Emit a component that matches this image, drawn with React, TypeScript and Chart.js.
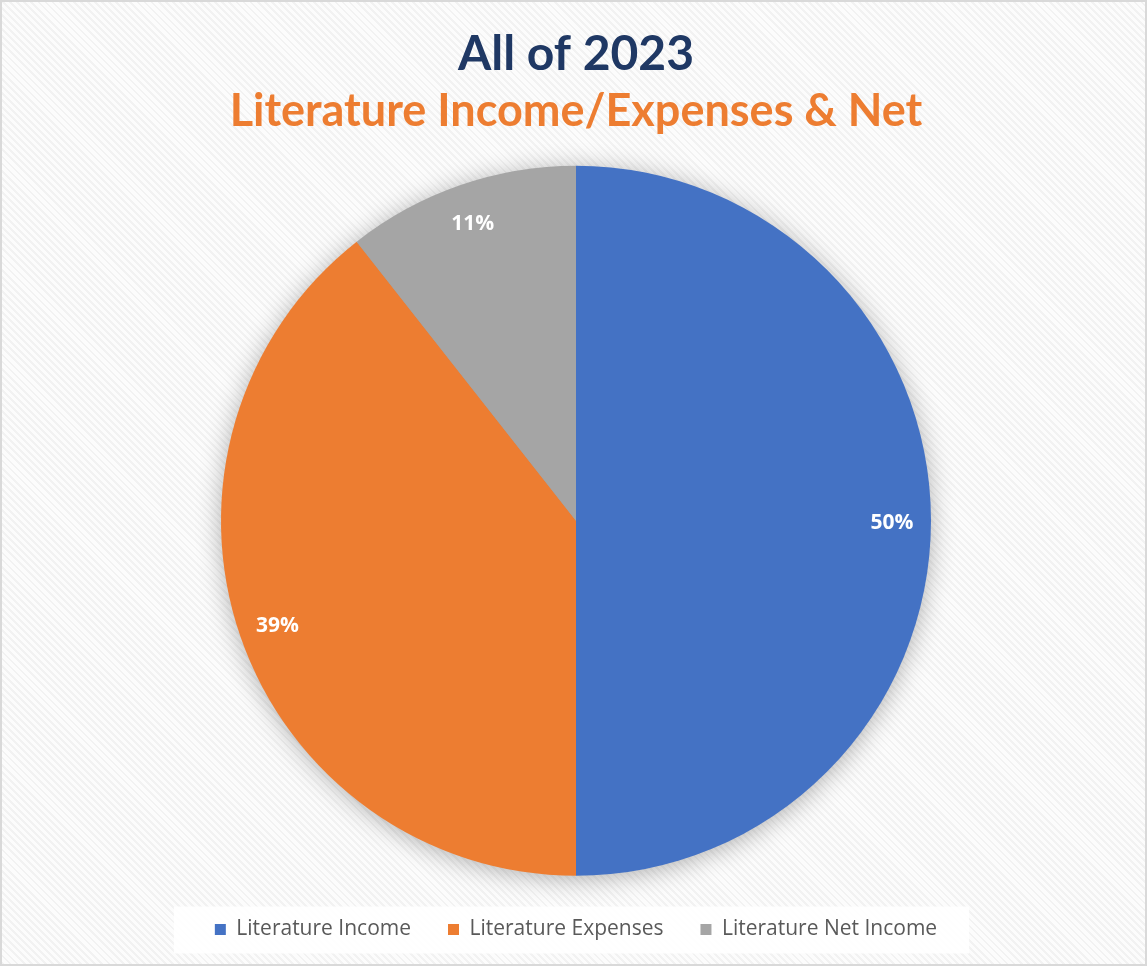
import { useEffect, useRef } from "react";
import { Chart, registerables } from "chart.js";

Chart.register(...registerables);

const categories = ["Literature Income", "Literature Expenses", "Literature Net Income"];
const shares = [50.0, 39.4, 10.6];
const sliceColors = ["#4472C4", "#ED7D31", "#A5A5A5"];
const titleText = "All of 2023";
const subtitleText = "Literature Income/Expenses & Net";

const CANVAS_W = 1143;
const CANVAS_H = 962;

export default function App() {
  const ref = useRef<HTMLCanvasElement>(null);

  useEffect(() => {
    document.body.style.margin = "0";
    if (!ref.current) return;

    const shadowPlugin = {
      id: "pieShadow",
      beforeDatasetsDraw(chart: any) {
        const arc = chart.getDatasetMeta(0).data[0];
        if (!arc) return;
        const { x, y, outerRadius } = arc.getProps(["x", "y", "outerRadius"], true);
        const ctx = chart.ctx;
        ctx.save();
        ctx.shadowColor = "rgba(0,0,0,0.32)";
        ctx.shadowBlur = 26;
        ctx.shadowOffsetY = 3;
        ctx.fillStyle = "#a0a0a0";
        ctx.beginPath();
        ctx.arc(x, y, outerRadius - 1, 0, Math.PI * 2);
        ctx.fill();
        ctx.restore();
      },
    };

    const legendBoxPlugin = {
      id: "legendBox",
      beforeDraw(chart: any) {
        const hb = chart.legend?.legendHitBoxes;
        if (!hb || !hb.length) return;
        const first = hb[0];
        const last = hb[hb.length - 1];
        const cy = first.top + first.height / 2;
        const ctx = chart.ctx;
        ctx.save();
        ctx.fillStyle = "rgba(255,255,255,0.88)";
        const left = first.left - 41;
        const right = last.left + last.width + 32;
        ctx.fillRect(left, cy - 23, right - left, 47);
        ctx.restore();
      },
    };

    const labelPlugin = {
      id: "sliceLabels",
      afterDatasetsDraw(chart: any) {
        const meta = chart.getDatasetMeta(0);
        const data = chart.data.datasets[0].data as number[];
        const total = data.reduce((a, b) => a + b, 0);
        const ctx = chart.ctx;
        ctx.save();
        ctx.fillStyle = "#ffffff";
        ctx.font = "bold 21px 'Open Sans'";
        ctx.textAlign = "center";
        ctx.textBaseline = "middle";
        meta.data.forEach((arc: any, i: number) => {
          const { x, y, startAngle, endAngle, outerRadius } = arc.getProps(
            ["x", "y", "startAngle", "endAngle", "outerRadius"],
            true
          );
          const mid = (startAngle + endAngle) / 2;
          const r = outerRadius * 0.89;
          const pct = Math.round((data[i] / total) * 100) + "%";
          ctx.fillText(pct, x + Math.cos(mid) * r, y + Math.sin(mid) * r + 2);
        });
        ctx.restore();
      },
    };

    const chart = new Chart(ref.current, {
      type: "pie",
      data: {
        labels: categories,
        datasets: [
          {
            data: shares,
            backgroundColor: sliceColors,
            borderWidth: 0,
            radius: 355,
          } as any,
        ],
      },
      options: {
        responsive: false,
        animation: false,
        layout: { padding: { left: 5, right: 0, top: 0, bottom: 14 } },
        plugins: {
          title: {
            display: true,
            text: titleText,
            color: "#1F3864",
            font: { family: "Lato", size: 48, weight: "bold", lineHeight: 1.2 },
            padding: { top: 24, bottom: 0 },
          },
          subtitle: {
            display: true,
            text: subtitleText,
            color: "#ED7D31",
            font: { family: "Lato", size: 45, weight: "bold", lineHeight: 1.2 },
            padding: { top: 1, bottom: 21 },
          },
          legend: {
            position: "bottom",
            labels: {
              boxWidth: 11,
              boxHeight: 11,
              padding: 37,
              color: "#595959",
              font: { family: "Open Sans", size: 21 },
            },
          },
          tooltip: { enabled: true },
        },
      },
      plugins: [shadowPlugin, legendBoxPlugin, labelPlugin],
    });

    return () => chart.destroy();
  }, []);

  return (
    <div
      style={{
        width: 1147,
        height: 966,
        boxSizing: "border-box",
        border: "2px solid #d9d9d9",
        background:
          "repeating-linear-gradient(45deg, #f2f2f2 0px, #f2f2f2 2px, #fcfcfc 2px, #fcfcfc 5px)",
        position: "relative",
        overflow: "hidden",
      }}
    >
      <canvas ref={ref} width={CANVAS_W} height={CANVAS_H} style={{ display: "block" }} />
    </div>
  );
}
